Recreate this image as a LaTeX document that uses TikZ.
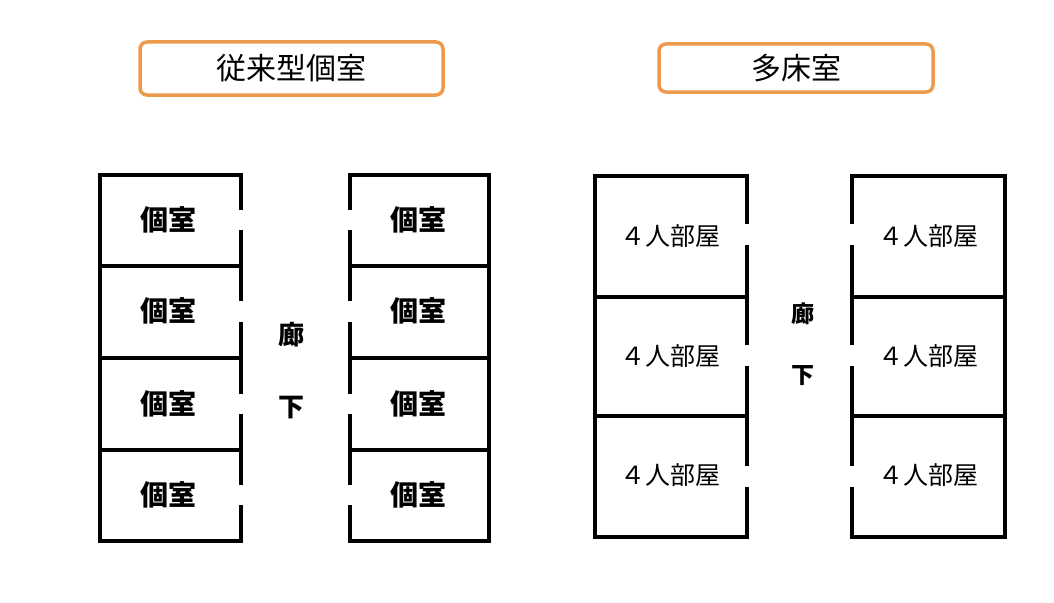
\documentclass[tikz,border=0pt]{standalone}
\usepackage{fontspec}
\setmainfont{Noto Sans CJK JP}
\definecolor{org}{HTML}{EE9A4D}
\begin{document}
\begin{tikzpicture}[x=1pt,y=-1pt,
 wall/.style={line width=4pt,line cap=rect},
 title/.style={draw=org,line width=3.5pt,rounded corners=7pt,font=\fontsize{30}{34}\selectfont},
 kroom/.style={font=\bfseries\fontsize{28}{32}\selectfont},
 mroom/.style={font=\fontsize{25}{28}\selectfont},
 hall/.style={font=\bfseries\fontsize{26}{28}\selectfont}]
\useasboundingbox (0,0) rectangle (1054,602);
\node[title,minimum width=303pt,minimum height=53pt] (t1) at (291.5,68.5) {従来型個室};
\node[title,minimum width=274pt,minimum height=48pt] (t2) at (796,68) {多床室};
% block A
\draw[wall] (241,208) -- (241,175) -- (100,175) -- (100,541) -- (241,541) -- (241,507);
\foreach \a/\b in {232/299,324/392,416/483}{\draw[wall] (241,\a) -- (241,\b);}
\foreach \y in {266,358,450}{\draw[wall] (100,\y) -- (241,\y);}
% block B
\draw[wall] (350,208) -- (350,175) -- (489,175) -- (489,541) -- (350,541) -- (350,507);
\foreach \a/\b in {232/299,324/392,416/483}{\draw[wall] (350,\a) -- (350,\b);}
\foreach \y in {266,358,450}{\draw[wall] (350,\y) -- (489,\y);}
\foreach \y/\n in {220/1,311/2,404/3,495/4}{
 \node[kroom] (a\n) at (168,\y) {個室};
 \node[kroom] (b\n) at (418,\y) {個室};}
\node[hall] (h1) at (291,335) {廊};
\node[hall] (h2) at (291,408) {下};
% block C
\draw[wall] (747,222) -- (747,176) -- (595,176) -- (595,537) -- (747,537) -- (747,489);
\foreach \a/\b in {247/343,368/464}{\draw[wall] (747,\a) -- (747,\b);}
\foreach \y in {297,416}{\draw[wall] (595,\y) -- (747,\y);}
% block D
\draw[wall] (852,222) -- (852,176) -- (1005,176) -- (1005,537) -- (852,537) -- (852,489);
\foreach \a/\b in {247/343,368/464}{\draw[wall] (852,\a) -- (852,\b);}
\foreach \y in {297,416}{\draw[wall] (852,\y) -- (1005,\y);}
\foreach \y/\n in {236/1,356/2,475/3}{
 \node[mroom] (c\n) at (670,\y) {４人部屋};
 \node[mroom] (d\n) at (928,\y) {４人部屋};}
\node[hall,font=\bfseries\fontsize{23}{26}\selectfont] (h3) at (803,314) {廊};
\node[hall,font=\bfseries\fontsize{23}{26}\selectfont] (h4) at (803,376) {下};
\end{tikzpicture}
\end{document}
